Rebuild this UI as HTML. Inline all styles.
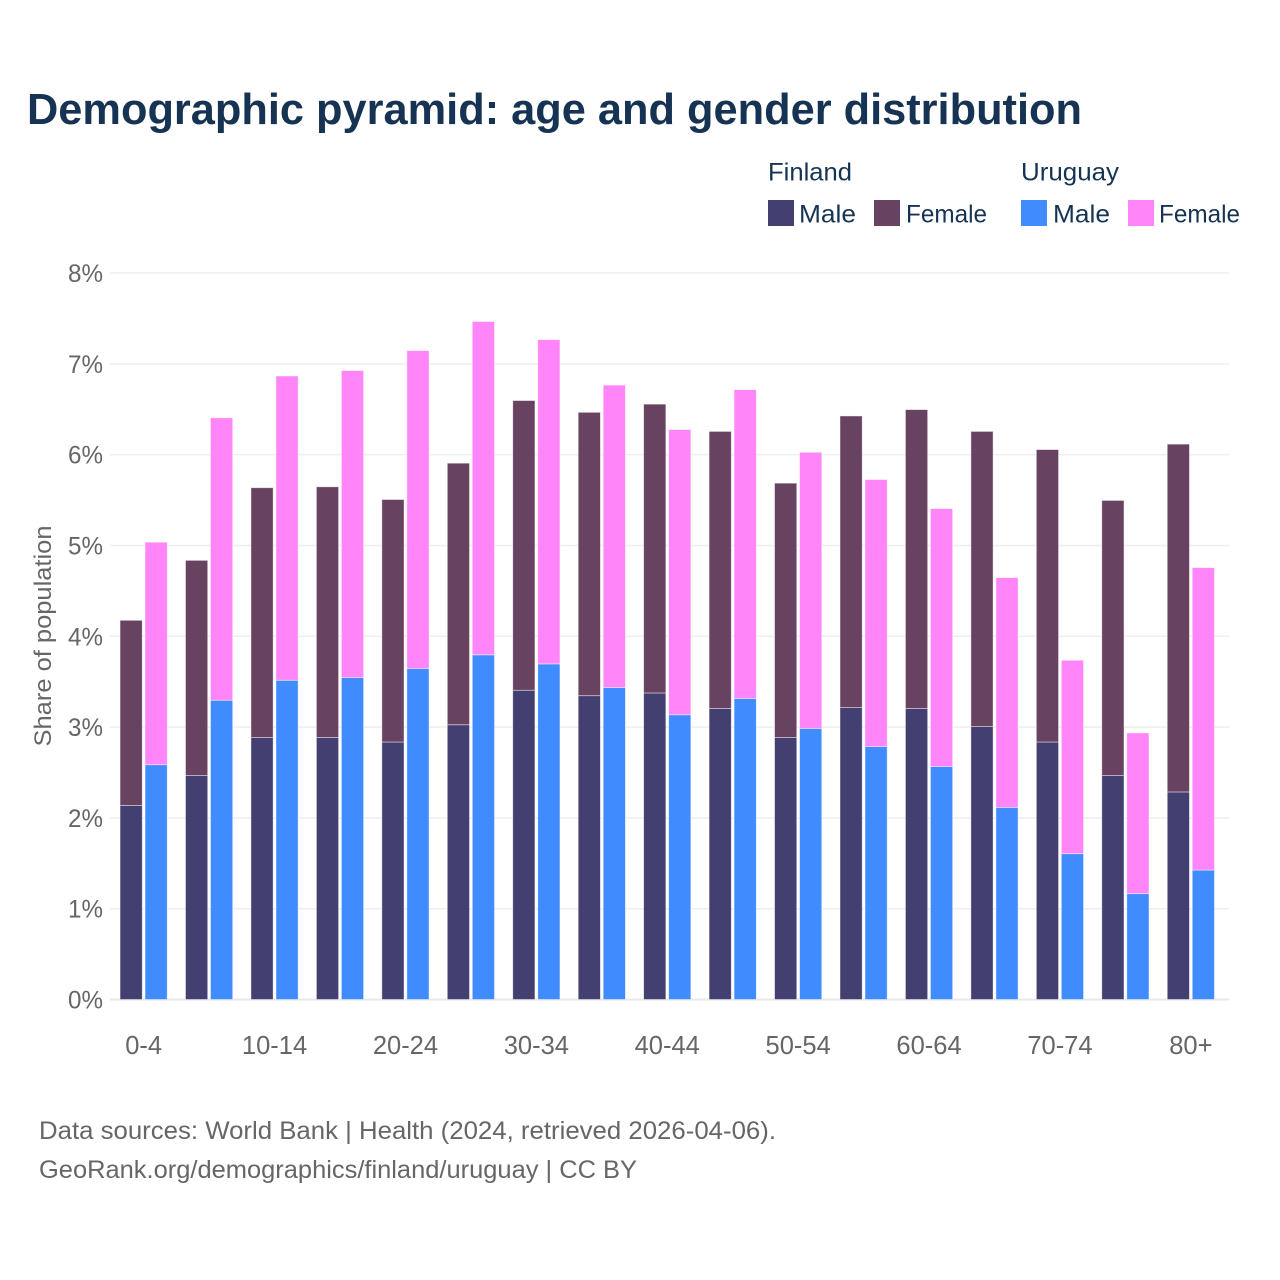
<!DOCTYPE html>
<html lang="en">
<head>
<meta charset="utf-8">
<title>Demographic pyramid</title>
<style>
html,body{margin:0;padding:0;background:#fff;width:1280px;height:1280px;overflow:hidden}
svg{display:block}
text{font-family:"Liberation Sans",sans-serif}
</style>
</head>
<body>
<svg id="chart" width="1280" height="1280" viewBox="0 0 1280 1280" xmlns="http://www.w3.org/2000/svg">
  <text x="27" y="124" font-size="44" font-weight="700" fill="#163353" textLength="1055" lengthAdjust="spacingAndGlyphs">Demographic pyramid: age and gender distribution</text>
  <g id="grid"></g>
  <g id="bars"></g>
  <g id="yticks"></g>
  <g id="xticks"></g>
  <text transform="translate(51,636) rotate(-90)" text-anchor="middle" font-size="24" fill="#666666" textLength="221" lengthAdjust="spacingAndGlyphs">Share of population</text>

  <g>
    <text x="768" y="180.5" font-size="25" fill="#163353" textLength="84" lengthAdjust="spacingAndGlyphs">Finland</text>
    <text x="1021" y="180.5" font-size="25" fill="#163353" textLength="98" lengthAdjust="spacingAndGlyphs">Uruguay</text>
    <rect x="768" y="200" width="26" height="26" fill="#433f70"/>
    <text x="799" y="222.5" font-size="25" fill="#163353" textLength="57" lengthAdjust="spacingAndGlyphs">Male</text>
    <rect x="874" y="200" width="26" height="26" fill="#684261"/>
    <text x="906" y="222.5" font-size="25" fill="#163353" textLength="81" lengthAdjust="spacingAndGlyphs">Female</text>
    <rect x="1021" y="200" width="26" height="26" fill="#408cff"/>
    <text x="1053" y="222.5" font-size="25" fill="#163353" textLength="57" lengthAdjust="spacingAndGlyphs">Male</text>
    <rect x="1128" y="200" width="26" height="26" fill="#ff85f8"/>
    <text x="1159" y="222.5" font-size="25" fill="#163353" textLength="81" lengthAdjust="spacingAndGlyphs">Female</text>
  </g>

  <text x="39" y="1139" font-size="25" fill="#666666" textLength="737" lengthAdjust="spacingAndGlyphs">Data sources: World Bank | Health (2024, retrieved 2026-04-06).</text>
  <text x="39" y="1178" font-size="25" fill="#666666" textLength="598" lengthAdjust="spacingAndGlyphs">GeoRank.org/demographics/finland/uruguay | CC BY</text>
</svg>
<script>
var categories = ["0-4","5-9","10-14","15-19","20-24","25-29","30-34","35-39","40-44","45-49","50-54","55-59","60-64","65-69","70-74","75-79","80+"];
var finlandMale = [2.14,2.47,2.89,2.89,2.84,3.03,3.41,3.35,3.38,3.21,2.89,3.22,3.21,3.01,2.84,2.47,2.29];
var finlandFemale = [2.04,2.37,2.75,2.76,2.67,2.88,3.19,3.12,3.18,3.05,2.80,3.21,3.29,3.25,3.22,3.03,3.83];
var uruguayMale = [2.59,3.30,3.52,3.55,3.65,3.80,3.70,3.44,3.14,3.32,2.99,2.79,2.57,2.12,1.61,1.17,1.43];
var uruguayFemale = [2.45,3.11,3.35,3.38,3.50,3.67,3.57,3.33,3.14,3.40,3.04,2.94,2.84,2.53,2.13,1.77,3.33];
var yTickValues = [0,1,2,3,4,5,6,7,8];
var xTickLabels = ["0-4","10-14","20-24","30-34","40-44","50-54","60-64","70-74","80+"];

var NS = "http://www.w3.org/2000/svg";
var plotLeft = 110, plotRight = 1229;
var yBase = 999.5, yTop = 273, yMax = 8;
var firstCenter = 143.65, lastCenter = 1190.85;

function yScale(v) {
  return yBase - (v / yMax) * (yBase - yTop);
}
function xCenter(i) {
  return firstCenter + i * (lastCenter - firstCenter) / (categories.length - 1);
}
function make(tag, attrs, parent) {
  var el = document.createElementNS(NS, tag);
  for (var k in attrs) el.setAttribute(k, attrs[k]);
  parent.appendChild(el);
  return el;
}

var grid = document.getElementById("grid");
var yticks = document.getElementById("yticks");
var xticks = document.getElementById("xticks");
var bars = document.getElementById("bars");

yTickValues.forEach(function (v) {
  var line = make("line", {x1: plotLeft, x2: plotRight, y1: yScale(v), y2: yScale(v), stroke: v === 0 ? "#e8e8e8" : "#eeeeee", "stroke-width": v === 0 ? 2 : 1.5}, grid);
  
  
  var label = make("text", {x: 103, y: yScale(v) + 9, "text-anchor": "end", "font-size": 25, fill: "#666666", textLength: 35, lengthAdjust: "spacingAndGlyphs"}, yticks);
  label.textContent = v + "%";
  
  
});

xTickLabels.forEach(function (t) {
  var i = categories.indexOf(t);
  var label = make("text", {x: xCenter(i), y: 1054, "text-anchor": "middle", "font-size": 25.5, fill: "#666666"}, xticks);
  label.textContent = t;
  
  
});

function stacked(i, x, male, female, maleColor, femaleColor, country) {
  var w = 22.2;
  var inset = 0.4;
  var top1 = yScale(male) + inset;
  var top2 = yScale(male + female) + inset;
  var m = make("rect", {x: x, y: top1, width: w, height: yBase - top1, fill: maleColor, stroke: "#ffffff", "stroke-opacity": 0.55, "stroke-width": 0.8}, bars);
  
  
  var f = make("rect", {x: x, y: top2, width: w, height: top1 - top2, fill: femaleColor, stroke: "#ffffff", "stroke-opacity": 0.55, "stroke-width": 0.8}, bars);
  
  
}

categories.forEach(function (c, i) {
  var cx = xCenter(i);
  stacked(i, cx - 23.6, finlandMale[i], finlandFemale[i], "#433f70", "#684261", "finland");
  stacked(i, cx + 1.4, uruguayMale[i], uruguayFemale[i], "#408cff", "#ff85f8", "uruguay");
});
</script>
</body>
</html>
